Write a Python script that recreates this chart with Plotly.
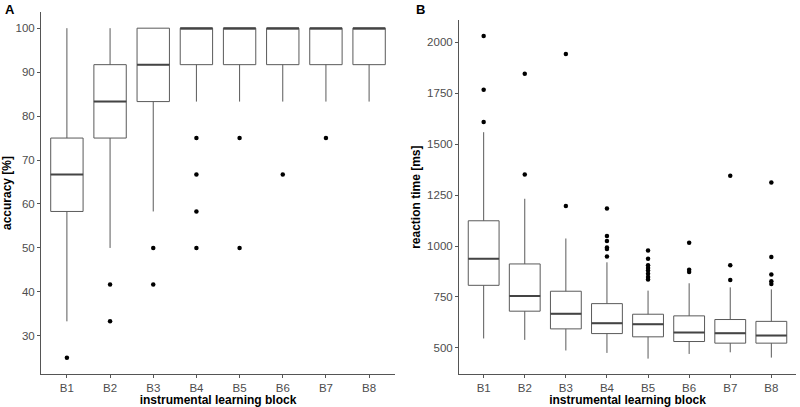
import plotly.graph_objects as go

blocks = ["B1", "B2", "B3", "B4", "B5", "B6", "B7", "B8"]

# Panel A: accuracy [%]
acc_lower = [33.3, 50.0, 58.3, 83.3, 83.3, 83.3, 83.3, 83.3]
acc_q1 = [58.3, 75.0, 83.3, 91.7, 91.7, 91.7, 91.7, 91.7]
acc_median = [66.7, 83.3, 91.7, 100.0, 100.0, 100.0, 100.0, 100.0]
acc_q3 = [75.0, 91.7, 100.0, 100.0, 100.0, 100.0, 100.0, 100.0]
acc_upper = [100.0, 100.0, 100.0, 100.0, 100.0, 100.0, 100.0, 100.0]
acc_outliers = [
    [25.0],
    [41.7, 33.3],
    [50.0, 41.7],
    [75.0, 66.7, 58.3, 50.0],
    [75.0, 50.0],
    [66.7],
    [75.0],
    [],
]

# Panel B: reaction time [ms]
rt_lower = [546, 539, 487, 475, 447, 470, 478, 452]
rt_q1 = [807, 680, 593, 570, 554, 531, 523, 523]
rt_median = [938, 755, 667, 621, 616, 575, 572, 560]
rt_q3 = [1124, 912, 778, 717, 665, 657, 639, 630]
rt_upper = [1559, 1232, 1037, 920, 781, 817, 797, 787]
rt_outliers = [
    [2031, 1768, 1609],
    [1846, 1351],
    [1943, 1196],
    [1184, 1049, 1025, 993, 985, 949],
    [978, 938, 905, 892, 880, 864, 848, 835],
    [1016, 884, 872],
    [1345, 905, 833],
    [1312, 946, 860, 827, 814],
]

BOX_W = 0.75
LINE_C = "#5a5a5a"
MED_C = "#444444"
AXIS_C = "#555555"
TICK_C = "#4d4d4d"
FONT = "Liberation Sans, Arial, sans-serif"

fig = go.Figure()
xpos = list(range(1, len(blocks) + 1))


def add_panel(xa, ya, lower, q1, med, q3, upper, outl):
    fig.add_trace(go.Box(
        x=xpos, lowerfence=lower, q1=q1, median=med, q3=q3, upperfence=upper,
        width=BOX_W, whiskerwidth=0, fillcolor="white",
        line=dict(color=LINE_C, width=1), boxpoints=False,
        xaxis=xa, yaxis=ya, showlegend=False, hoverinfo="skip"))
    mx, my = [], []
    for i, m in zip(xpos, med):
        mx += [i - BOX_W / 2, i + BOX_W / 2, None]
        my += [m, m, None]
    fig.add_trace(go.Scatter(x=mx, y=my, mode="lines",
                             line=dict(color=MED_C, width=2),
                             xaxis=xa, yaxis=ya, showlegend=False, hoverinfo="skip"))
    ox, oy = [], []
    for i, vals in zip(xpos, outl):
        for v in vals:
            ox.append(i)
            oy.append(v)
    fig.add_trace(go.Scatter(x=ox, y=oy, mode="markers",
                             marker=dict(color="black", size=4.5),
                             xaxis=xa, yaxis=ya, showlegend=False, hoverinfo="skip"))


add_panel("x", "y", acc_lower, acc_q1, acc_median, acc_q3, acc_upper, acc_outliers)
add_panel("x2", "y2", rt_lower, rt_q1, rt_median, rt_q3, rt_upper, rt_outliers)

axis_common = dict(
    showline=True, linecolor=AXIS_C, linewidth=1, showgrid=False, zeroline=False,
    ticks="outside", ticklen=3, tickcolor=AXIS_C, tickwidth=1, automargin=False,
    tickfont=dict(family=FONT, size=11.5, color=TICK_C),
)
title_font = dict(family=FONT, size=12, color="black", weight="bold")

H = 407.0
fig.update_layout(
    template="none",
    width=800, height=407,
    margin=dict(l=0, r=0, t=0, b=0, autoexpand=False),
    paper_bgcolor="white", plot_bgcolor="white",
    xaxis=dict(domain=[41 / 800, 395 / 800], range=[0.4, 8.6], tickvals=xpos, ticktext=blocks,
               anchor="y", title=dict(text="instrumental learning block", font=title_font, standoff=2),
               **axis_common),
    yaxis=dict(domain=[1 - 374.3 / H, 1 - 11.7 / H], range=[21.25, 103.75],
               tickvals=[30, 40, 50, 60, 70, 80, 90, 100], anchor="x",
               title=dict(text="accuracy [%]", font=title_font, standoff=3),
               **axis_common),
    xaxis2=dict(domain=[459 / 800, 796 / 800], range=[0.4, 8.6], tickvals=xpos, ticktext=blocks,
                anchor="y2", title=dict(text="instrumental learning block", font=title_font, standoff=2),
                **axis_common),
    yaxis2=dict(domain=[1 - 374.3 / H, 1 - 20 / H], range=[370, 2110],
                tickvals=[500, 750, 1000, 1250, 1500, 1750, 2000], anchor="x2",
                title=dict(text="reaction time [ms]", font=title_font, standoff=3),
                **axis_common),
    annotations=[
        dict(text="A", x=3 / 800, y=1 - 9 / H, xref="paper", yref="paper",
             xanchor="left", yanchor="middle", showarrow=False,
             font=dict(family=FONT, size=13, color="black", weight="bold")),
        dict(text="B", x=414 / 800, y=1 - 9 / H, xref="paper", yref="paper",
             xanchor="left", yanchor="middle", showarrow=False,
             font=dict(family=FONT, size=13, color="black", weight="bold")),
    ],
)

fig.write_html(
    "out.html",
    config={"displayModeBar": False, "staticPlot": True},
    post_script="document.body.style.margin='0';document.body.style.padding='0';"
                "document.body.style.overflow='hidden';",
)
